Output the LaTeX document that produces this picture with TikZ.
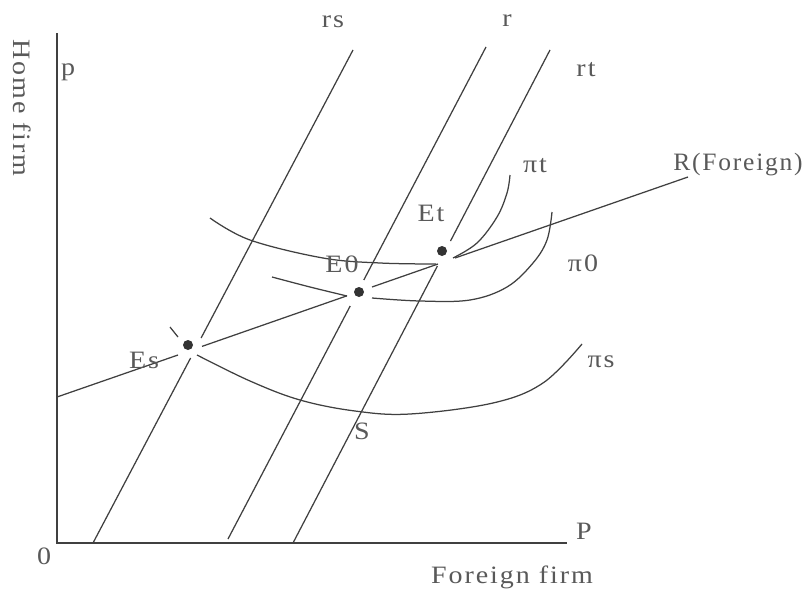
\documentclass[tikz,border=0pt]{standalone}
\usepackage{fontspec}
\setmainfont{Liberation Serif}[LetterSpace=7]
\newcommand{\wtx}[1]{\scalebox{1.12}[1]{#1}}
\begin{document}
\begin{tikzpicture}[x=1pt,y=-1pt,
  ln/.style={draw=black!75,line width=1.25pt},
  lbl/.style={text=black!65,inner sep=0pt,font=\fontsize{25}{29}\selectfont},
  dotn/.style={circle,fill=black!80,inner sep=0pt,minimum size=10pt}]
\useasboundingbox (0,0) rectangle (807,597);
% axes
\coordinate (ytop) at (57,33);
\coordinate (org) at (57,543);
\coordinate (xend) at (567,543);
\draw[ln] (ytop) -- (org) -- (xend);
% reaction line R(Foreign)
\coordinate (a0) at (57,397);
\coordinate (a1) at (178,355);
\coordinate (a2) at (202,346.4);
\coordinate (a3) at (347,295.8);
\coordinate (a4) at (372,287);
\coordinate (a5) at (438,264);
\coordinate (a6) at (455,258);
\coordinate (a7) at (688,177);
\draw[ln] (a0) -- (a1) (a2) -- (a3) (a4) -- (a5) (a6) -- (a7);
% rs line
\coordinate (rs0) at (93,543);
\coordinate (rs1) at (190.6,358);
\coordinate (rs2) at (201.1,338);
\coordinate (rs3) at (353,50);
\draw[ln] (rs0) -- (rs1) (rs2) -- (rs3);
% r line
\coordinate (r0) at (228,539);
\coordinate (r1) at (350.2,306);
\coordinate (r2) at (363.8,280);
\coordinate (r3) at (486,47);
\draw[ln] (r0) -- (r1) (r2) -- (r3);
% rt line
\coordinate (rt0) at (293,543);
\coordinate (rt1) at (437.4,266);
\coordinate (rt2) at (450.5,241);
\coordinate (rt3) at (550,50);
\draw[ln] (rt0) -- (rt1) (rt2) -- (rt3);
% pi s
\draw[ln] (170,327) -- (178,337);
\draw[ln] plot[smooth,tension=0.6] coordinates {(197,355) (250,381) (300,400) (355,411) (410,414) (493,403) (543,383) (582,344)};
% pi 0
\draw[ln] plot[smooth,tension=0.6] coordinates {(272,277) (310,287) (347,296)};
\draw[ln] plot[smooth,tension=0.6] coordinates {(372,298) (420,301) (470,300) (507,287) (533,263) (547,240) (552,212)};
% pi t
\draw[ln] plot[smooth,tension=0.6] coordinates {(210,218) (250,240) (323,258) (380,263) (436,264)};
\draw[ln] plot[smooth,tension=0.6] coordinates {(453,258) (477,243) (497,217) (507,193) (510,175)};
% dots
\node[dotn] (Es) at (188,345) {};
\node[dotn] (E0) at (359,292) {};
\node[dotn] (Et) at (442,251) {};
% labels
\node[lbl] (lrs) at (333,22) {\wtx{rs}};
\node[lbl] (lr) at (507,21) {\wtx{r}};
\node[lbl] (lrt) at (586,70) {\wtx{rt}};
\node[lbl] (lp) at (68,72) {\wtx{p}};
\node[lbl] (lR) at (738,165) {\scalebox{1.02}[1]{R(Foreign)}};
\node[lbl] (lpit) at (535,166) {\wtx{πt}};
\node[lbl] (lEt) at (431,213) {\wtx{Et}};
\node[lbl] (lE0) at (342,264) {\wtx{E0}};
\node[lbl] (lpi0) at (583,263) {\wtx{π0}};
\node[lbl] (lpis) at (601,362) {\wtx{πs}};
\node[lbl] (lEs) at (144,360) {\wtx{Es}};
\node[lbl] (lS) at (362,431) {\wtx{S}};
\node[lbl] (lP) at (584,531) {\wtx{P}};
\node[lbl] (l0) at (44,556) {\wtx{0}};
\node[lbl] (lff) at (512,577) {\wtx{Foreign firm}};
\node[lbl,rotate=-90] (lhf) at (22,108) {\wtx{Home firm}};
\end{tikzpicture}
\end{document}
